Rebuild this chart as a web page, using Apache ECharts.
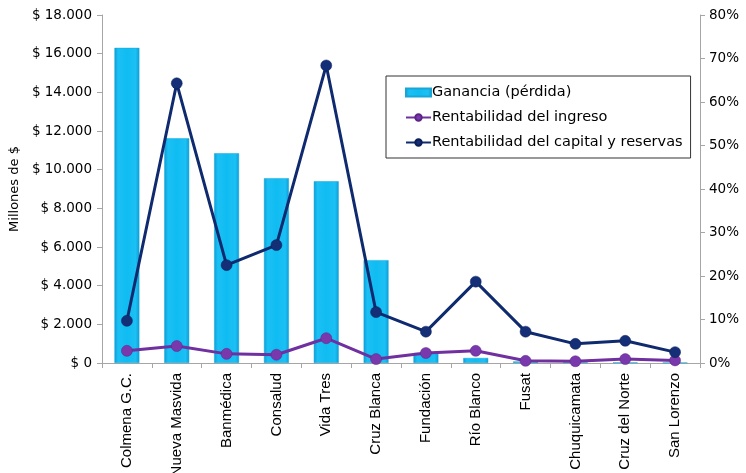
<!DOCTYPE html>
<html>
<head>
<meta charset="utf-8">
<script src="https://cdn.jsdelivr.net/npm/echarts@6/dist/echarts.min.js"></script>
<style>html,body{margin:0;padding:0;background:#fff;}#c{width:746px;height:473px;}</style>
</head>
<body>
<div id="c"></div>
<script>
const categories = ['Colmena G.C.','Nueva Masvida','Banmédica','Consalud','Vida Tres','Cruz Blanca','Fundación','Río Blanco','Fusat','Chuquicamata','Cruz del Norte','San Lorenzo'];
const ganancia = [16300, 11620, 10850, 9560, 9400, 5320, 520, 260, 80, 30, 30, 20];
const rentIngreso = [2.8, 3.9, 2.1, 1.9, 5.7, 0.9, 2.3, 2.8, 0.5, 0.4, 0.9, 0.6];
const rentCapital = [9.7, 64.3, 22.5, 27.1, 68.4, 11.7, 7.2, 18.7, 7.2, 4.4, 5.1, 2.5];
const leftTicks = {min: 0, max: 18000, interval: 2000};
const rightTicks = {min: 0, max: 80, interval: 10};

function fmtMoney(v){
  const s = Math.round(v).toString().replace(/\B(?=(\d{3})+(?!\d))/g, '.');
  return '$ ' + s;
}

const chart = echarts.init(document.getElementById('c'));
const txt = '#000';
chart.setOption({
  animation: false,
  backgroundColor: '#fff',
  grid: {left: 102, right: 46, top: 15, bottom: 110, containLabel: false, outerBoundsMode: 'none'},
  legend: {
    orient: 'vertical',
    left: 386, top: 76,
    padding: [9, 8, 8, 19],
    itemGap: 10,
    itemWidth: 25, itemHeight: 8,
    borderColor: '#333', borderWidth: 1,
    backgroundColor: '#fff',
    textStyle: {fontFamily: 'DejaVu Sans', fontSize: 14.5, color: '#000', padding: [0,0,0,-4]},
    data: [
      {name: 'Ganancia (pérdida)', icon: 'rect'},
      {name: 'Rentabilidad del ingreso'},
      {name: 'Rentabilidad del capital y reservas'}
    ]
  },
  xAxis: {
    type: 'category',
    data: categories,
    axisLine: {lineStyle: {color: '#a6a6a6'}},
    axisTick: {show: true, alignWithLabel: false, length: 5, lineStyle: {color: '#a6a6a6'}},
    axisLabel: {rotate: 90, interval: 0, fontFamily: 'Liberation Sans', fontSize: 15, color: txt, margin: 10}
  },
  yAxis: [
    {
      type: 'value', min: leftTicks.min, max: leftTicks.max, interval: leftTicks.interval,
      name: 'Millones de $', nameLocation: 'middle', nameGap: 77, nameRotate: 90,
      nameTextStyle: {fontFamily: 'DejaVu Sans', fontSize: 13, color: txt},
      axisLine: {show: true, lineStyle: {color: '#a6a6a6'}},
      axisTick: {show: true, length: 5, lineStyle: {color: '#a6a6a6'}},
      splitLine: {show: false},
      axisLabel: {formatter: fmtMoney, fontFamily: 'DejaVu Sans', fontSize: 13.5, color: txt, margin: 10}
    },
    {
      type: 'value', min: rightTicks.min, max: rightTicks.max, interval: rightTicks.interval,
      position: 'right',
      axisLine: {show: true, lineStyle: {color: '#a6a6a6'}},
      axisTick: {show: true, length: 5, lineStyle: {color: '#a6a6a6'}},
      splitLine: {show: false},
      axisLabel: {formatter: '{value}%', fontFamily: 'DejaVu Sans', fontSize: 13.5, color: txt, margin: 9}
    }
  ],
  series: [
    {
      name: 'Ganancia (pérdida)', type: 'bar', yAxisIndex: 0,
      data: ganancia, barWidth: '50%',
      itemStyle: {
        color: new echarts.graphic.LinearGradient(0, 0, 1, 0, [
          {offset: 0, color: '#0a9fd8'},
          {offset: 0.15, color: '#1cc0f4'},
          {offset: 0.5, color: '#0fbcf2'},
          {offset: 0.85, color: '#1cc0f4'},
          {offset: 1, color: '#0a9fd8'}
        ]),
        borderColor: '#1aa5d5', borderWidth: 0.5
      }
    },
    {
      name: 'Rentabilidad del ingreso', type: 'line', yAxisIndex: 1,
      data: rentIngreso, symbol: 'circle', symbolSize: 11,
      lineStyle: {color: '#7030a0', width: 3},
      itemStyle: {color: '#7a38ad', borderColor: '#5c2585', borderWidth: 0.5}
    },
    {
      name: 'Rentabilidad del capital y reservas', type: 'line', yAxisIndex: 1,
      data: rentCapital, symbol: 'circle', symbolSize: 11,
      lineStyle: {color: '#0f2a6e', width: 3},
      itemStyle: {color: '#142f78', borderColor: '#0a1f55', borderWidth: 0.5}
    }
  ]
});
</script>
</body>
</html>
